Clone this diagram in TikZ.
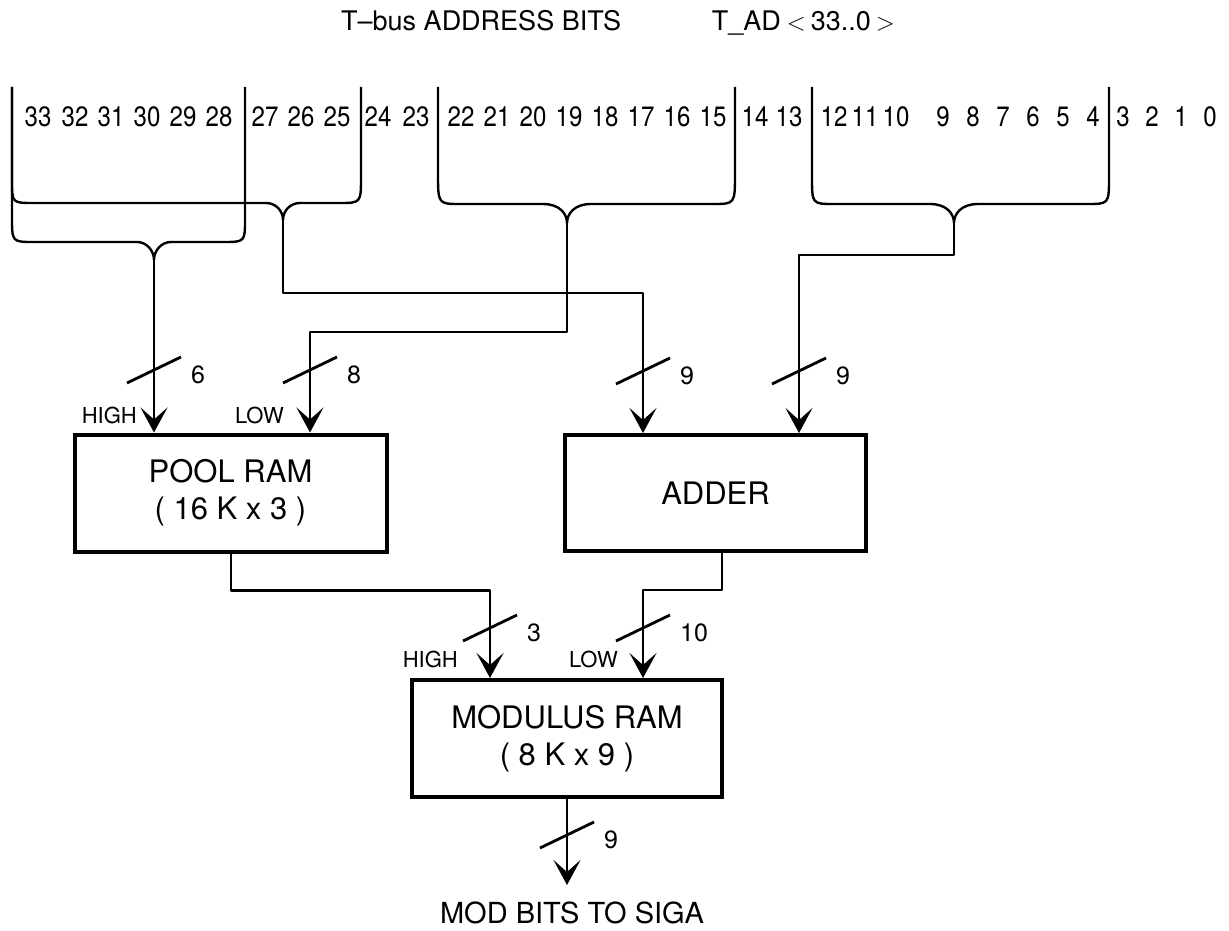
\documentclass[tikz,border=0pt]{standalone}
\usepackage{fontspec}
\setmainfont{TeX Gyre Heros}
\newfontfamily\bitfont[FakeStretch=0.86]{TeX Gyre Heros}
\usetikzlibrary{arrows.meta,calc}
\newcommand\tbrace[8]{%
  \draw[bus] (#1,87) -- (#1,#3) .. controls (#1,#5) .. (#1+22,#5) -- (#6-#8,#5)
    .. controls (#6-7,#5) and (#6,#7-9) .. (#6,#7)
    .. controls (#6,#7-9) and (#6+7,#5) .. (#6+#8,#5) -- (#2-22,#5)
    .. controls (#2,#5) .. (#2,#4) -- (#2,87);}
\newcommand\wmark[4]{%
  \draw[slashline] (#2-27,#3+13) -- (#2+27,#3-13);
  \node[numlab, anchor=west] (#1) at (#2+37,#3+5) {#4};}
\newcommand\bigrel[1]{{\fontsize{33}{33}\selectfont$#1$}}
\begin{document}
\begin{tikzpicture}[x=1pt,y=-1pt,
  bus/.style={line width=2.4pt, line join=round},
  arr/.style={bus, -{Stealth[length=25pt,width=27pt,inset=12pt]}},
  box/.style={draw, line width=4pt, align=center, inner sep=0pt,
              font=\fontsize{31}{37}\selectfont},
  slashline/.style={line width=2.8pt},
  numlab/.style={font=\fontsize{25}{28}\selectfont, inner sep=0pt},
  hllab/.style={font=\fontsize{22}{26}\selectfont, inner sep=0pt, anchor=east},
  bitlab/.style={font=\bitfont\fontsize{28}{32}\selectfont, inner sep=0pt, anchor=base},
  titlelab/.style={font=\fontsize{27}{30}\selectfont, inner sep=0pt}]
\path[use as bounding box] (0,0) rectangle (1229,931);

% title
\node[titlelab, anchor=base west] (title1) at (341,31) {T–bus ADDRESS BITS};
\node[titlelab, anchor=base east] (title2) at (895,31) {T\_AD\hspace{6pt}\bigrel{<}\hspace{5pt}33..0\hspace{5pt}\bigrel{>}};

% bit numbers
\foreach \n/\x in {33/38,32/75,31/111,30/147,29/183,28/219,27/265,26/301,25/337,
  24/378,23/416,22/461,21/497,20/533,19/569,18/605,17/641,16/677,15/713,
  14/755,13/789,12/834,11/865,10/896,9/943,8/973,7/1003,6/1033,5/1063,4/1093,
  3/1123,2/1152,1/1181,0/1210}
  \node[bitlab] (b\n) at (\x,127) {\n};

% braces
\tbrace{12}{361}{181}{177}{203}{283}{220}{17}
\tbrace{12}{245}{217}{219}{242}{154}{260}{17}
\tbrace{438}{735}{173}{173}{204}{567}{223}{24}
\tbrace{812}{1109}{177}{177}{204}{954}{223}{24}
\coordinate (tipA) at (283,220);
\coordinate (tipB) at (154,260);
\coordinate (tipC) at (567,223);
\coordinate (tipD) at (954,223);

% boxes
\node[box, minimum width=312pt, minimum height=117pt] (pool) at (230.5,493) {POOL RAM\\( 16 K x 3 )};
\node[box, minimum width=301pt, minimum height=116pt] (adder) at (715.5,493) {ADDER};
\node[box, minimum width=310pt, minimum height=117pt] (mod) at (567,738.5) {MODULUS RAM\\( 8 K x 9 )};

% ports
\coordinate (poolHi) at (pool.north -| tipB);
\coordinate (poolLo) at ([xshift=79.5pt]pool.north);
\coordinate (addLi) at ([xshift=-72.5pt]adder.north);
\coordinate (addRi) at ([xshift=83.5pt]adder.north);
\coordinate (poolOut) at ([xshift=0.5pt]pool.south);
\coordinate (addOut) at ([xshift=6.5pt]adder.south);
\coordinate (modHi) at ([xshift=-77pt]mod.north);
\coordinate (modLo) at ([xshift=76pt]mod.north);
\coordinate (out) at (567,885);

% connectors
\draw[arr] (tipB) -- (poolHi);
\draw[arr] (tipC) -- ($(tipC)+(0,109)$) -| (poolLo);
\draw[arr] (tipA) -- ($(tipA)+(0,73)$) -| (addLi);
\draw[arr] (tipD) -- ($(tipD)+(0,32)$) -| (addRi);
\draw[arr] (poolOut) -- ($(poolOut)+(0,37)$) -| (modHi);
\draw[arr] (addOut) -- ($(addOut)+(0,37)$) -| (modLo);
\draw[arr] (mod.south) -- (out);

% width marks
\wmark{w6}{154}{370}{6}
\wmark{w8}{310}{370}{8}
\wmark{w9a}{643}{371}{9}
\wmark{w9b}{799}{371}{9}
\wmark{w3}{490}{628}{3}
\wmark{w10}{643}{628}{10}
\wmark{w9c}{567}{835}{9}

% HIGH/LOW labels
\node[hllab] (h1) at (137,415) {HIGH};
\node[hllab] (l1) at (284,415) {LOW};
\node[hllab] (h2) at (458,659) {HIGH};
\node[hllab] (l2) at (618,659) {LOW};

% output label
\node[font=\fontsize{29}{34}\selectfont, inner sep=0pt] (outlab) at (572,913) {MOD BITS TO SIGA};
\end{tikzpicture}
\end{document}
